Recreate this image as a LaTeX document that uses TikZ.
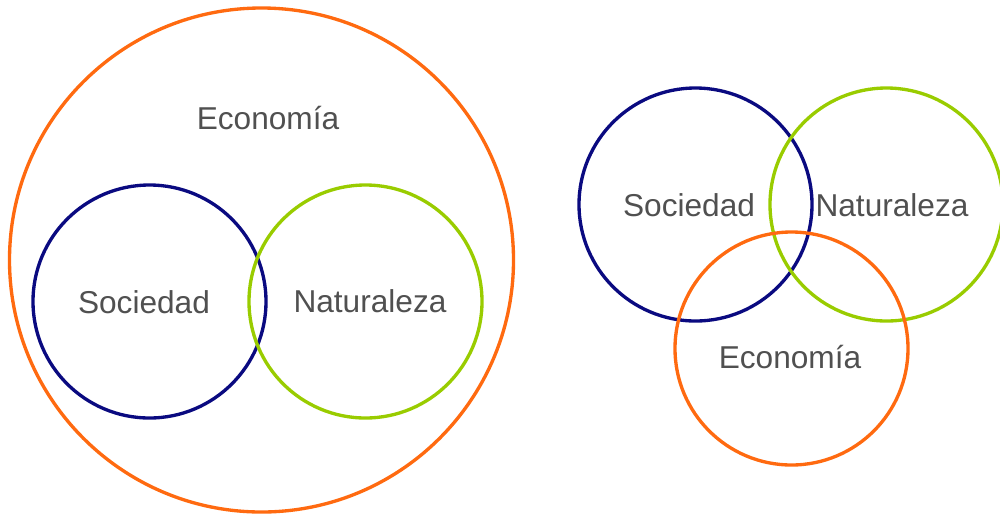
\documentclass[tikz,border=0pt]{standalone}
\usepackage{fontspec}
\setmainfont{Liberation Sans}
\definecolor{econ}{HTML}{FF6A10}
\definecolor{soc}{HTML}{0A0A80}
\definecolor{nat}{HTML}{99CC00}
\definecolor{txt}{HTML}{505050}
\begin{document}
\begin{tikzpicture}[x=0.02cm,y=-0.02cm,
  ring/.style={line width=1.9pt},
  lbl/.style={font=\fontsize{18}{20}\selectfont, text=txt, inner sep=0pt}]
\useasboundingbox (0,0) rectangle (1000,515);
\clip (0,0) rectangle (1000,515);
% left diagram
\draw[ring, econ] (261.5,260) circle[radius=252];
\draw[ring, soc] (149.5,301.5) circle[radius=116.5];
\draw[ring, nat] (365.5,301.5) circle[radius=116.5];
\node[lbl] (e1) at (268,118) {Economía};
\node[lbl] (s1) at (144,302) {Sociedad};
\node[lbl] (n1) at (370,301) {Naturaleza};
% right diagram
\draw[ring, soc] (695.5,204.5) circle[radius=116.5];
\draw[ring, nat] (886.5,204.5) circle[radius=116.5];
\draw[ring, econ] (791.5,348.5) circle[radius=116.5];
\node[lbl] (s2) at (689,205) {Sociedad};
\node[lbl] (n2) at (892,205) {Naturaleza};
\node[lbl] (e2) at (790,357) {Economía};
\end{tikzpicture}
\end{document}
